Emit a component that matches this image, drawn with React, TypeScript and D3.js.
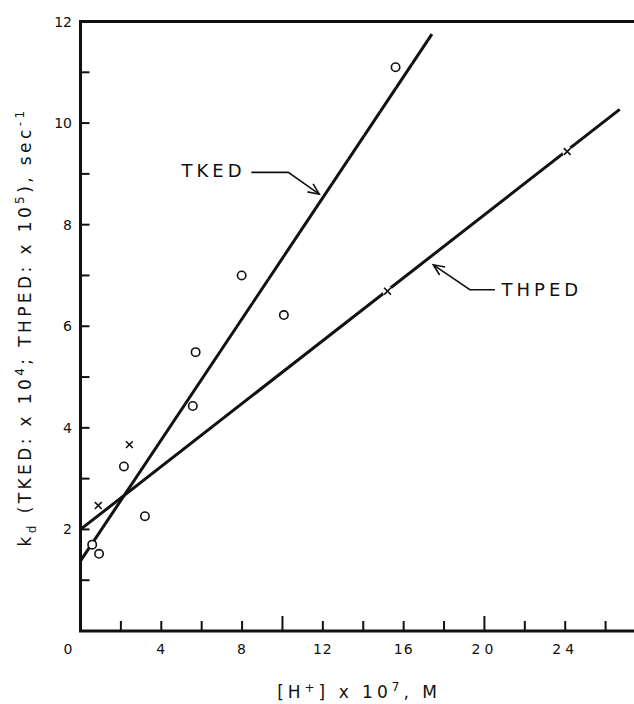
import React from 'react';
import * as d3 from 'd3';

const W = 634;
const H = 704;

// TKED (open circles): x = [H+] x 1e7 M, y = kd x 1e4 sec^-1
const tkedX = [0.58, 0.92, 2.15, 3.19, 5.56, 5.7, 7.98, 10.07, 15.6];
const tkedY = [1.7, 1.52, 3.24, 2.26, 4.43, 5.49, 7.0, 6.22, 11.1];
// THPED (crosses): y = kd x 1e5 sec^-1
const thpedX = [0.88, 2.42, 15.2, 24.1];
const thpedY = [2.47, 3.67, 6.69, 9.44];

// fitted straight lines, end points
const tkedFitX = [0, 17.4];
const tkedFitY = [1.38, 11.75];
const thpedFitX = [0, 26.7];
const thpedFitY = [2.0, 10.27];

const xTickLabels = [0, 4, 8, 12, 16, 20, 24];
const xTicks = [2, 4, 6, 8, 10, 12, 14, 16, 18, 20, 22, 24, 26];
const xLongTicks = [10, 20];
const yTickLabels = [2, 4, 6, 8, 10, 12];
const yTicks = [1, 2, 3, 4, 5, 6, 7, 8, 9, 10, 11];

// annotation leaders, in data units: [label anchor, elbow start, elbow, arrow tip]
const tkedNote = [[5.0, 9.07], [8.46, 9.03], [10.29, 9.03], [11.82, 8.6]];
const thpedNote = [[20.85, 6.72], [20.52, 6.72], [19.28, 6.72], [17.47, 7.21]];

const FONT = 'DejaVu Sans, sans-serif';

export default function App() {
  const x = d3.scaleLinear().domain([0, 28]).range([80.5, 646]);
  const y = d3.scaleLinear().domain([0, 12]).range([631, 21.5]);

  const line = d3.line<[number, number]>()
    .x(d => x(d[0]))
    .y(d => y(d[1]));

  const tkedFit = line(tkedFitX.map((v, i) => [v, tkedFitY[i]]) as [number, number][]);
  const thpedFit = line(thpedFitX.map((v, i) => [v, thpedFitY[i]]) as [number, number][]);

  const leader = (pts: number[][]) => {
    const p = pts.slice(1).map(d => [x(d[0]), y(d[1])]);
    const [e, tip] = [p[1], p[2]];
    const ang = Math.atan2(tip[1] - e[1], tip[0] - e[0]);
    const len = 12;
    const b1 = [tip[0] - len * Math.cos(ang - 0.42), tip[1] - len * Math.sin(ang - 0.42)];
    const b2 = [tip[0] - len * Math.cos(ang + 0.42), tip[1] - len * Math.sin(ang + 0.42)];
    return {
      path: `M${p[0][0]},${p[0][1]}L${p[1][0]},${p[1][1]}L${tip[0]},${tip[1]}`,
      head: `M${b1[0]},${b1[1]}L${tip[0]},${tip[1]}L${b2[0]},${b2[1]}`,
    };
  };
  const tl = leader(tkedNote);
  const hl = leader(thpedNote);

  return (
    <div>
      <style>{`body{margin:0}`}</style>
      <svg width={W} height={H} style={{ display: 'block', background: '#fff' }} fontFamily={FONT}>
        {/* frame: left, bottom, top */}
        <path
          d={`M${x(28)},${y(12)}H${x(0)}V${y(0)}H${x(28)}`}
          fill="none" stroke="#111" strokeWidth={3}
        />

        {/* y ticks */}
        {yTicks.map(t => (
          <line key={`yt${t}`} x1={x(0)} x2={x(0) + 9} y1={y(t)} y2={y(t)} stroke="#111" strokeWidth={2} />
        ))}
        {yTickLabels.map(t => (
          <text key={`yl${t}`} x={72} y={y(t)} dy="0.36em" textAnchor="end" fontSize={14} fill="#111">{t}</text>
        ))}

        {/* x ticks */}
        {xTicks.map(t => (
          <line key={`xt${t}`} x1={x(t)} x2={x(t)} y1={y(0)}
            y2={y(0) - (xLongTicks.includes(t) ? 15 : 10)} stroke="#111" strokeWidth={2} />
        ))}
        {xTickLabels.map(t => (
          <text key={`xl${t}`} x={x(t)} dx={t === 0 ? -12 : 0} y={654} textAnchor="middle"
            fontSize={14} letterSpacing={t >= 20 ? 4 : 1} fill="#111">{t}</text>
        ))}

        {/* fitted lines */}
        <path d={tkedFit || ''} fill="none" stroke="#111" strokeWidth={3} />
        <path d={thpedFit || ''} fill="none" stroke="#111" strokeWidth={3} />

        {/* TKED circles */}
        {tkedX.map((v, i) => (
          <circle key={`c${i}`} cx={x(v)} cy={y(tkedY[i])} r={4.2} fill="#fff" stroke="#111" strokeWidth={1.6} />
        ))}

        {/* THPED crosses */}
        {thpedX.map((v, i) => {
          const cx = x(v);
          const cy = y(thpedY[i]);
          const s = 3.4;
          const d = `M${cx - s},${cy - s}L${cx + s},${cy + s}M${cx + s},${cy - s}L${cx - s},${cy + s}`;
          return (
            <g key={`x${i}`}>
              <circle cx={cx} cy={cy} r={5} fill="#fff" />
              <path d={d} stroke="#111" strokeWidth={1.6} />
            </g>
          );
        })}

        {/* annotations */}
        <text x={x(tkedNote[0][0])} y={y(tkedNote[0][1])} dy="0.36em" fontSize={18} letterSpacing={4} fill="#111">TKED</text>
        <path d={tl.path} fill="none" stroke="#111" strokeWidth={1.6} />
        <path d={tl.head} fill="none" stroke="#111" strokeWidth={1.6} />

        <text x={x(thpedNote[0][0])} y={y(thpedNote[0][1])} dy="0.36em" fontSize={18} letterSpacing={4} fill="#111">THPED</text>
        <path d={hl.path} fill="none" stroke="#111" strokeWidth={1.6} />
        <path d={hl.head} fill="none" stroke="#111" strokeWidth={1.6} />

        {/* x axis title */}
        <text x={359} y={698} textAnchor="middle" fontSize={17} letterSpacing={4} fill="#111">
          [H<tspan fontSize={12} dy={-6}>+</tspan><tspan dy={6}>]  x 10</tspan>
          <tspan fontSize={12} dy={-7}>7</tspan><tspan dy={7}>, M</tspan>
        </text>

        {/* y axis title */}
        <text transform="translate(31,327) rotate(-90)" textAnchor="middle" fontSize={17} letterSpacing={3.4} fill="#111">
          k<tspan fontSize={12} dy={5}>d</tspan>
          <tspan dy={-5}> (TKED: x 10</tspan>
          <tspan fontSize={12} dy={-7}>4</tspan>
          <tspan dy={7}>; THPED: x 10</tspan>
          <tspan fontSize={12} dy={-7}>5</tspan>
          <tspan dy={7}>), sec</tspan>
          <tspan fontSize={12} dy={-7}>-1</tspan>
        </text>
      </svg>
    </div>
  );
}
